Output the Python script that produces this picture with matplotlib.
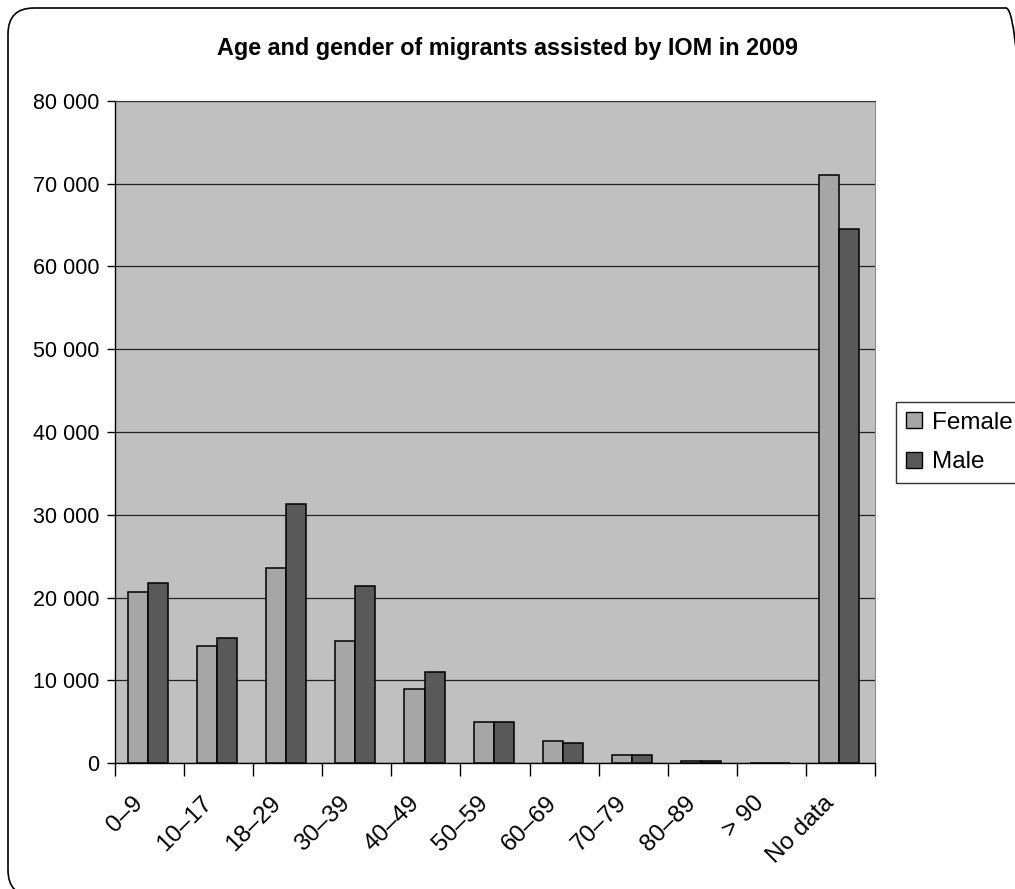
import matplotlib

matplotlib.use("Agg")
import matplotlib.pyplot as plt
import matplotlib.transforms as mtransforms
from matplotlib.patches import FancyBboxPatch, Patch
from matplotlib.ticker import FuncFormatter, MultipleLocator
import numpy as np

# ---- data ----
AGE_GROUPS = ["0–9", "10–17", "18–29", "30–39", "40–49", "50–59",
              "60–69", "70–79", "80–89", "> 90", "No data"]
FEMALE = [20700, 14100, 23600, 14800, 9000, 4900, 2700, 1000, 250, 20, 71000]
MALE = [21700, 15100, 31300, 21400, 11000, 4900, 2400, 1000, 250, 20, 64500]
TITLE = "Age and gender of migrants assisted by IOM in 2009"

# ---- style ----
W, H = 1015, 889
DPI = 100
C_FEMALE = "#a6a6a6"
C_MALE = "#595959"
C_PLOT = "#c0c0c0"

plt.rcParams.update({
    "font.family": ["Liberation Sans", "DejaVu Sans"],
    "font.size": 15.5,
})

fig = plt.figure(figsize=(W / DPI, H / DPI), dpi=DPI)

# rounded outer frame (pixel units -> inches), running off right/bottom edges
frame = FancyBboxPatch((8 / DPI, (H - 896) / DPI), 1024 / DPI, 888 / DPI,
                       boxstyle="round,pad=0,rounding_size=0.26",
                       transform=fig.dpi_scale_trans, facecolor="none",
                       edgecolor="black", linewidth=1.2)
fig.patches.append(frame)

ax = fig.add_axes([115 / W, 1 - 763 / H, 760 / W, 662 / H])
ax.set_facecolor(C_PLOT)

x = np.arange(len(AGE_GROUPS))
bw = 0.29
ax.bar(x - 0.165, FEMALE, bw, color=C_FEMALE, edgecolor="black", linewidth=1.1, zorder=3)
ax.bar(x + 0.125, MALE, bw, color=C_MALE, edgecolor="black", linewidth=1.1, zorder=3)

ax.set_xlim(-0.5, len(AGE_GROUPS) - 0.5)
ax.set_ylim(0, 80000)
ax.yaxis.set_major_locator(MultipleLocator(10000))
ax.yaxis.set_major_formatter(FuncFormatter(lambda v, p: f"{int(v):,}".replace(",", " ")))
ax.grid(axis="y", color="#222222", linewidth=0.9, zorder=1)

ax.spines["top"].set_color("#333333")
ax.spines["right"].set_color("#8c8c8c")
ax.spines["left"].set_linewidth(1.0)
ax.spines["bottom"].set_linewidth(1.0)
ax.tick_params(axis="y", direction="out", length=6, width=1, pad=5)

# category separators as tick marks, labels at the centres
ax.set_xticks(np.arange(len(AGE_GROUPS) + 1) - 0.5, minor=True)
ax.set_xticks(x)
ax.set_xticklabels(AGE_GROUPS, fontsize=17.5)
ax.tick_params(axis="x", which="minor", direction="out", length=9, width=1)
ax.tick_params(axis="x", which="major", length=0, pad=0)
offset = mtransforms.ScaledTranslation(-18 / DPI, -29 / DPI, fig.dpi_scale_trans)
for lbl in ax.get_xticklabels():
    lbl.set_rotation(45)
    lbl.set_ha("right")
    lbl.set_va("top")
    lbl.set_rotation_mode("anchor")
    lbl.set_transform(lbl.get_transform() + offset)

fig.text(0.5, 1 - 49 / H, TITLE, ha="center", va="center",
         fontsize=16.8, fontweight="bold")

handles = [Patch(facecolor=C_FEMALE, edgecolor="black", linewidth=1.0),
           Patch(facecolor=C_MALE, edgecolor="black", linewidth=1.0)]
leg = fig.legend(handles, ["Female", "Male"], loc="upper left",
                 bbox_to_anchor=(896 / W, 1 - 402 / H), fontsize=17.5,
                 frameon=True, fancybox=False, edgecolor="black",
                 handlelength=0.65, handleheight=0.65, handletextpad=0.45,
                 borderpad=0.4, labelspacing=0.72, borderaxespad=0)
leg.get_frame().set_linewidth(1.0)

fig.savefig("out.png", dpi=DPI, facecolor="white")
